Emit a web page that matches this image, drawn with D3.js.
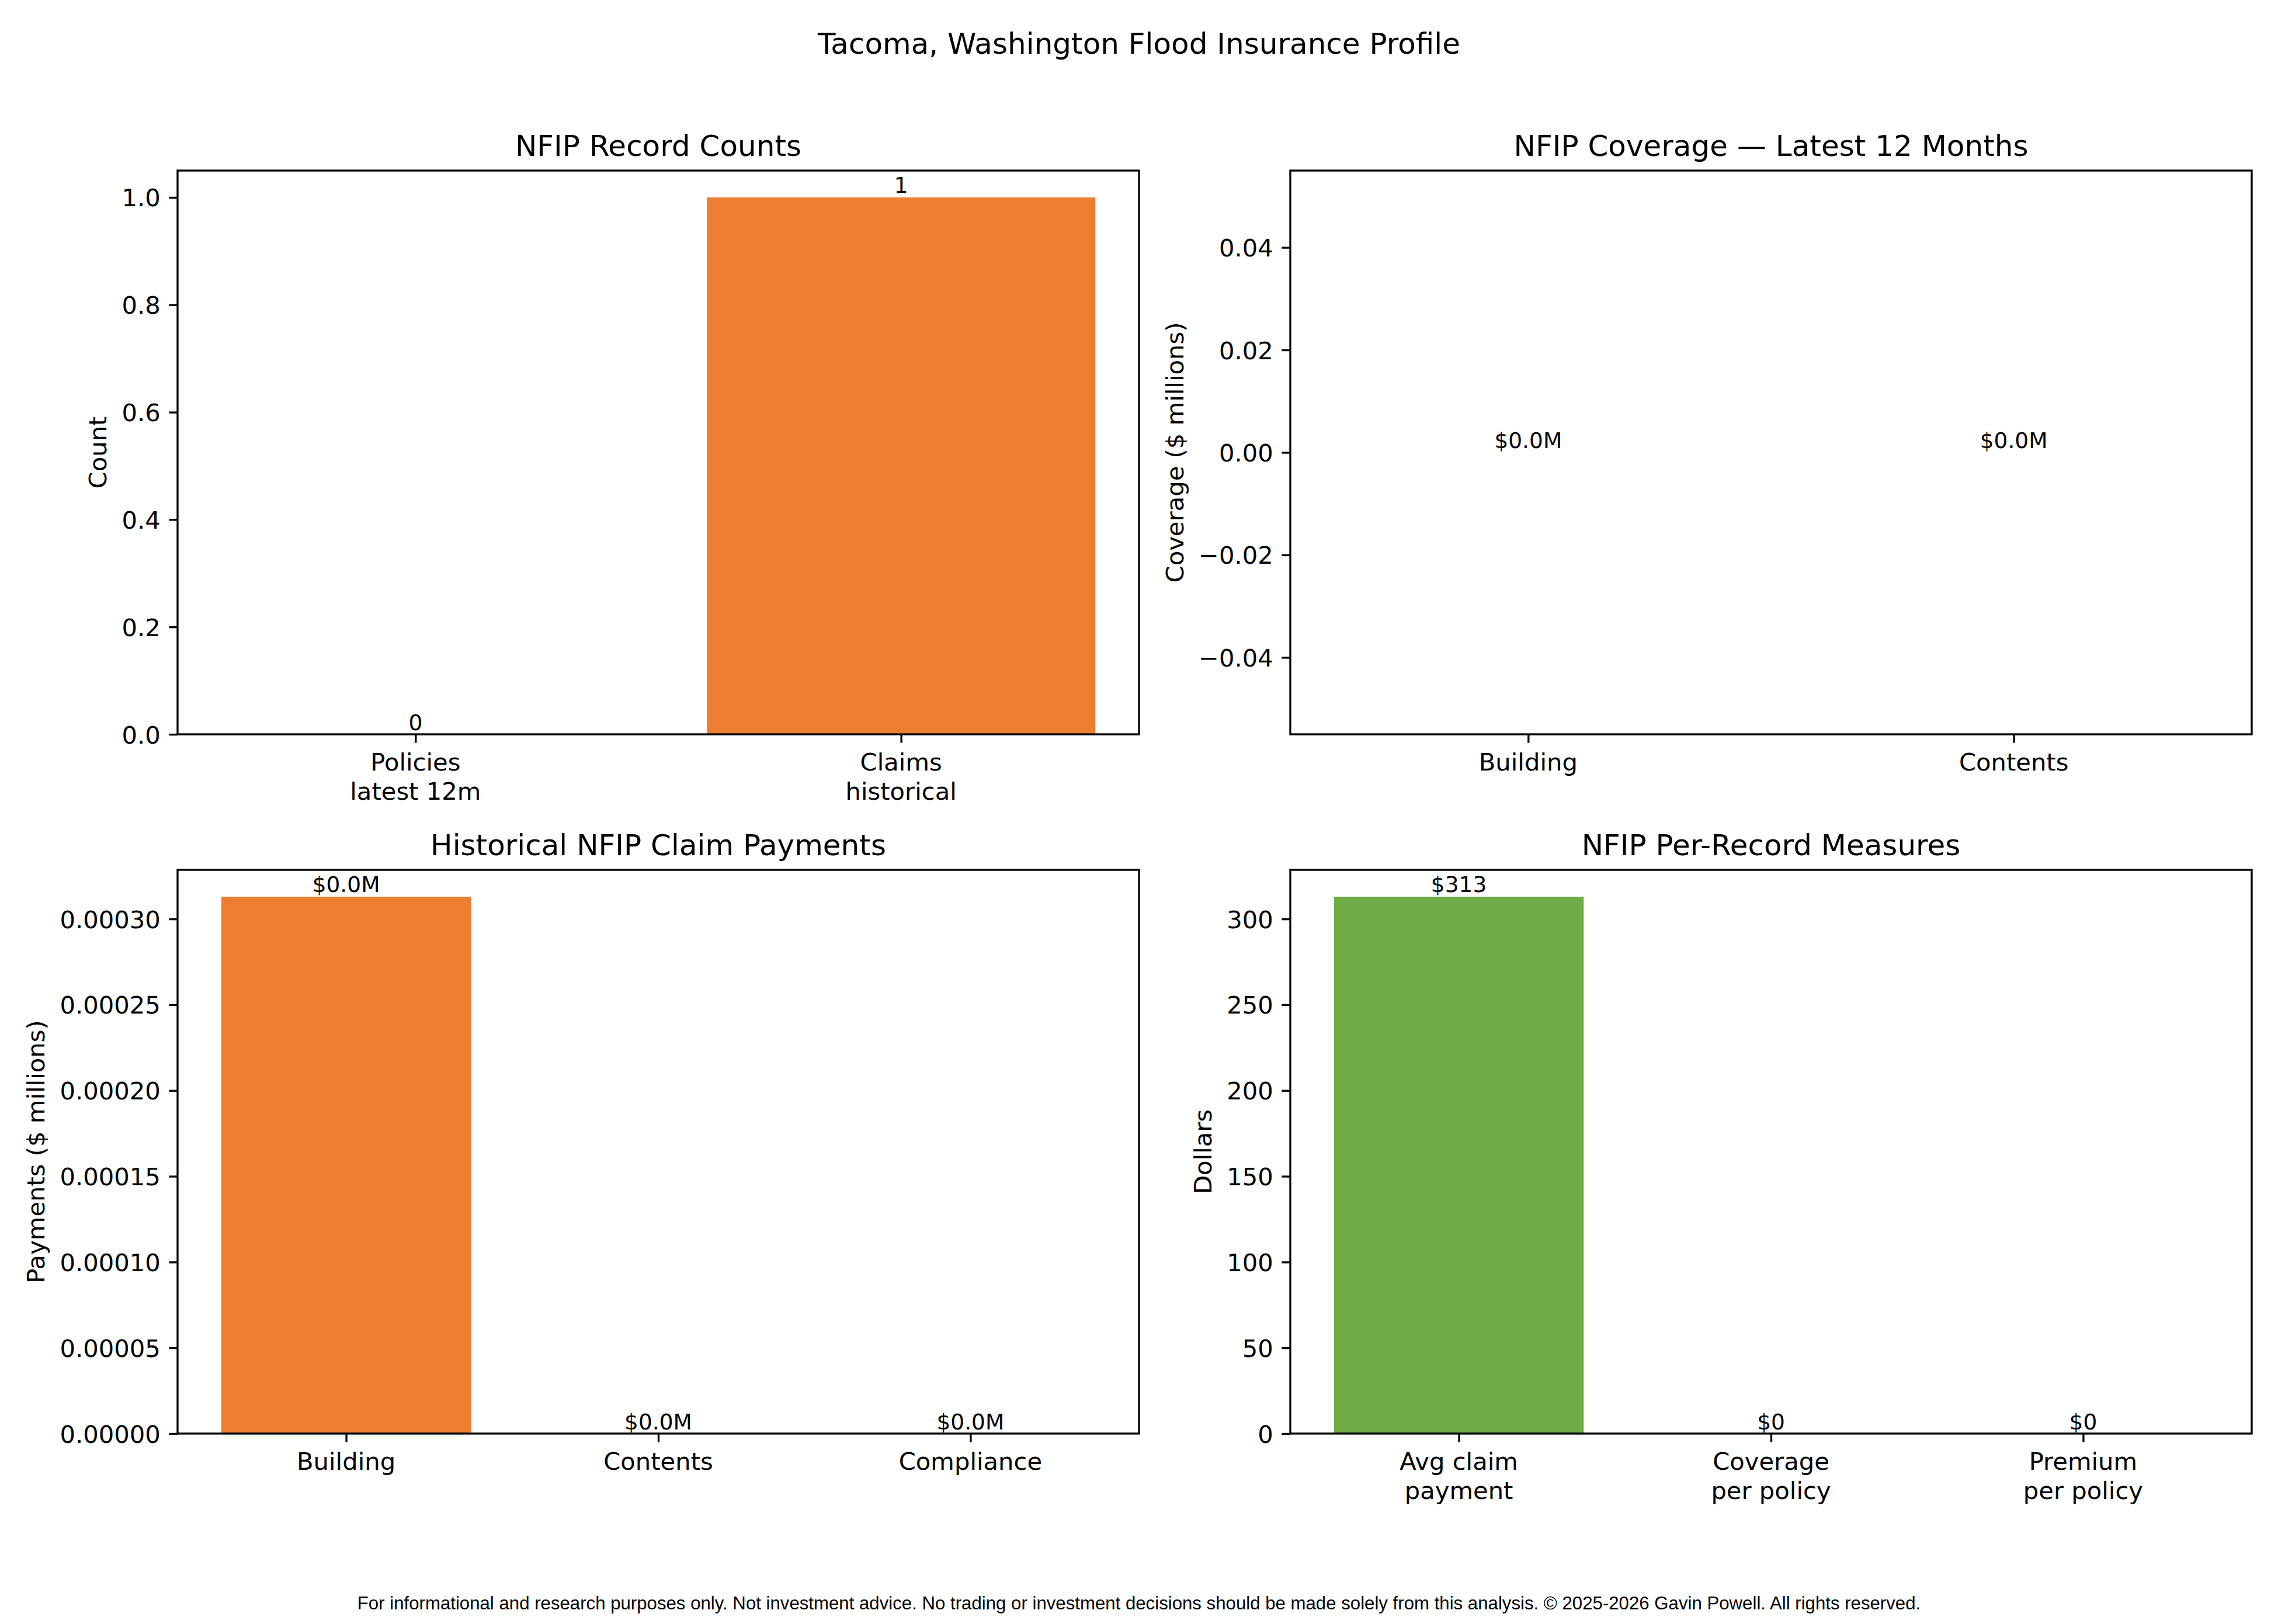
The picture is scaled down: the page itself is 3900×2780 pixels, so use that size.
<!DOCTYPE html>
<html>
<head>
<meta charset="utf-8">
<script src="https://cdn.jsdelivr.net/npm/d3@7"></script>
<style>
  body { margin: 0; background: #fff; }
  svg text { font-family: "DejaVu Sans", sans-serif; fill: #000; }
</style>
</head>
<body>
<svg id="fig"></svg>
<script>
const figTitle = "Tacoma, Washington Flood Insurance Profile";
const footerText = "For informational and research purposes only. Not investment advice. No trading or investment decisions should be made solely from this analysis. \u00A9 2025-2026 Gavin Powell. All rights reserved.";

// NFIP record counts
const countCats = [["Policies", "latest 12m"], ["Claims", "historical"]];
const countVals = [0, 1];
const countLabels = ["0", "1"];

// coverage, latest 12 months ($ millions)
const coverageCats = [["Building"], ["Contents"]];
const coverageVals = [0, 0];
const coverageLabels = ["$0.0M", "$0.0M"];

// historical claim payments ($ millions)
const paymentCats = [["Building"], ["Contents"], ["Compliance"]];
const paymentVals = [0.000313, 0, 0];
const paymentLabels = ["$0.0M", "$0.0M", "$0.0M"];

// per-record measures (dollars)
const measureCats = [["Avg claim", "payment"], ["Coverage", "per policy"], ["Premium", "per policy"]];
const measureVals = [313, 0, 0];
const measureLabels = ["$313", "$0", "$0"];

const W = 3900, H = 2780;
const axW = 1646, axH = 965;
const colX = [304, 2209], rowY = [292, 1489];
const fsTick = 41.7, fsTitle = 50, fsBar = 37.5;
const tickLen = 14.6, tickPad = 14.6, lw = 3.33;

const svg = d3.select('#fig').attr('width', W).attr('height', H);

svg.append('text')
  .attr('x', W / 2).attr('y', 92)
  .attr('text-anchor', 'middle')
  .style('font-size', fsTitle + 'px')
  .text(figTitle);

svg.append('text')
  .attr('x', W / 2).attr('y', 2755)
  .attr('text-anchor', 'middle')
  .style('font-family', '"Liberation Sans", Arial, sans-serif')
  .style('font-size', '31.2px')
  .text(footerText);

function drawPanel(left, top, o) {
  const g = svg.append('g').attr('transform', `translate(${left}, ${top})`);
  const n = o.cats.length;
  const m = 0.05 * (n - 0.2);
  const x = d3.scaleLinear().domain([-0.4 - m, n - 1 + 0.4 + m]).range([0, axW]);
  const vmax = d3.max(o.vals);
  const y = d3.scaleLinear()
    .domain(vmax > 0 ? [0, vmax * 1.05] : [-0.055, 0.055])
    .range([axH, 0]);

  g.selectAll('rect.bar').data(o.vals).join('rect')
    .attr('class', 'bar')
    .attr('x', (d, i) => x(i - 0.4))
    .attr('width', (d, i) => x(i + 0.4) - x(i - 0.4))
    .attr('y', d => y(Math.max(0, d)))
    .attr('height', d => Math.abs(y(d) - y(0)))
    .attr('fill', o.color);

  g.selectAll('text.blab').data(o.vals).join('text')
    .attr('class', 'blab')
    .attr('x', (d, i) => x(i))
    .attr('y', d => y(d) - 7.5)
    .attr('text-anchor', 'middle')
    .style('font-size', fsBar + 'px')
    .text((d, i) => o.labels[i]);

  // y axis
  const ya = g.append('g')
    .call(d3.axisLeft(y).ticks(7).tickFormat(d3.format(o.fmt))
      .tickSize(tickLen).tickPadding(tickPad));
  ya.select('.domain').remove();
  ya.selectAll('line').attr('stroke', '#000').attr('stroke-width', lw);
  ya.selectAll('text').style('font-size', fsTick + 'px')
    .style('font-family', '"DejaVu Sans", sans-serif').attr('dy', '0.36em');

  // x axis, ticks only; labels may be two lines
  const xa = g.append('g').attr('transform', `translate(0, ${axH})`)
    .call(d3.axisBottom(x).tickValues(d3.range(n)).tickFormat('').tickSize(tickLen));
  xa.select('.domain').remove();
  xa.selectAll('line').attr('stroke', '#000').attr('stroke-width', lw);

  const xl = g.selectAll('text.xl').data(o.cats).join('text')
    .attr('class', 'xl')
    .attr('text-anchor', 'middle')
    .style('font-size', fsTick + 'px');
  xl.each(function (lines, i) {
    d3.select(this).selectAll('tspan').data(lines).join('tspan')
      .attr('x', x(i))
      .attr('y', (l, k) => axH + 62 + k * 50)
      .text(l => l);
  });

  // frame
  g.append('rect')
    .attr('width', axW).attr('height', axH)
    .attr('fill', 'none').attr('stroke', '#000').attr('stroke-width', lw);

  g.append('text')
    .attr('x', axW / 2).attr('y', -25)
    .attr('text-anchor', 'middle')
    .style('font-size', fsTitle + 'px')
    .text(o.title);

  let maxW = 0;
  ya.selectAll('text').each(function () {
    maxW = Math.max(maxW, this.getComputedTextLength());
  });
  const lx = -tickLen - tickPad - maxW - 16.7 - 9.8;
  g.append('text')
    .attr('transform', `translate(${lx}, ${axH / 2}) rotate(-90)`)
    .attr('text-anchor', 'middle')
    .style('font-size', fsTick + 'px')
    .text(o.ylabel);
}

drawPanel(colX[0], rowY[0], {
  cats: countCats, vals: countVals, labels: countLabels,
  title: 'NFIP Record Counts', ylabel: 'Count', color: '#ED7D31', fmt: '.1f'
});
drawPanel(colX[1], rowY[0], {
  cats: coverageCats, vals: coverageVals, labels: coverageLabels,
  title: 'NFIP Coverage \u2014 Latest 12 Months', ylabel: 'Coverage ($ millions)', color: '#4472C4', fmt: '.2f'
});
drawPanel(colX[0], rowY[1], {
  cats: paymentCats, vals: paymentVals, labels: paymentLabels,
  title: 'Historical NFIP Claim Payments', ylabel: 'Payments ($ millions)', color: '#ED7D31', fmt: '.5f'
});
drawPanel(colX[1], rowY[1], {
  cats: measureCats, vals: measureVals, labels: measureLabels,
  title: 'NFIP Per-Record Measures', ylabel: 'Dollars', color: '#70AD47', fmt: 'd'
});
</script>
</body>
</html>
